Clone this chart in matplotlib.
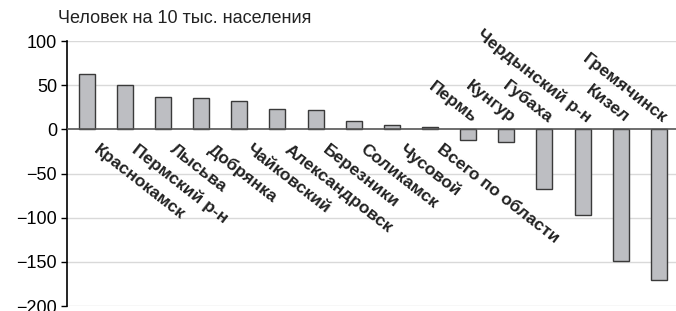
import matplotlib
matplotlib.use('Agg')
import matplotlib.pyplot as plt
import numpy as np

plt.rcParams['font.family'] = ['Liberation Sans', 'DejaVu Sans']

places = ['Краснокамск', 'Пермский р-н', 'Лысьва', 'Добрянка', 'Чайковский',
          'Александровск', 'Березники', 'Соликамск', 'Чусовой', 'Всего по области',
          'Пермь', 'Кунгур', 'Губаха', 'Чердынский р-н', 'Кизел', 'Гремячинск']
values = [63, 50, 37, 36, 32, 23, 22, 10, 5, 3, -12, -14, -68, -97, -149, -170]
yticks = [100, 50, 0, -50, -100, -150, -200]

fig = plt.figure(figsize=(6.76, 3.11), dpi=100)
ax = fig.add_axes([0.099, 0.016, 0.901, 0.852])

x = np.arange(len(places))
ax.bar(x, values, width=0.42, color='#bdbec2', edgecolor='#3a3a3a', linewidth=1.0, zorder=3)

for yv in yticks:
    if yv != 0:
        ax.axhline(yv, color='#d9d9d9', lw=1.0, zorder=1)
ax.axhline(0, color='#555555', lw=1.2, zorder=4)

ax.set_xlim(-0.52, 15.45)
ax.set_ylim(-200, 100)
ax.set_yticks(yticks)
ax.set_yticklabels([str(v).replace('-', '\u2212') for v in yticks], fontsize=13)
ax.tick_params(axis='y', length=4, width=1, color='black', pad=3)
ax.set_xticks([])
for s in ['top', 'right', 'bottom']:
    ax.spines[s].set_visible(False)
ax.spines['left'].set_linewidth(1.2)

for xi, name, v in zip(x, places, values):
    if v >= 0:
        ax.text(xi + 0.35, -14, name, rotation=-38, rotation_mode='anchor',
                ha='left', va='top', fontsize=12.5, fontweight='bold', color='#222222', zorder=5)
    else:
        ax.text(xi + 0.05, 4, name, rotation=-38, rotation_mode='anchor',
                ha='right', va='bottom', fontsize=12.5, fontweight='bold', color='#222222', zorder=5)

fig.text(0.086, 0.94, 'Человек на 10 тыс. населения', fontsize=13, color='#222222',
         ha='left', va='center')

fig.savefig('out.png', dpi=100)
